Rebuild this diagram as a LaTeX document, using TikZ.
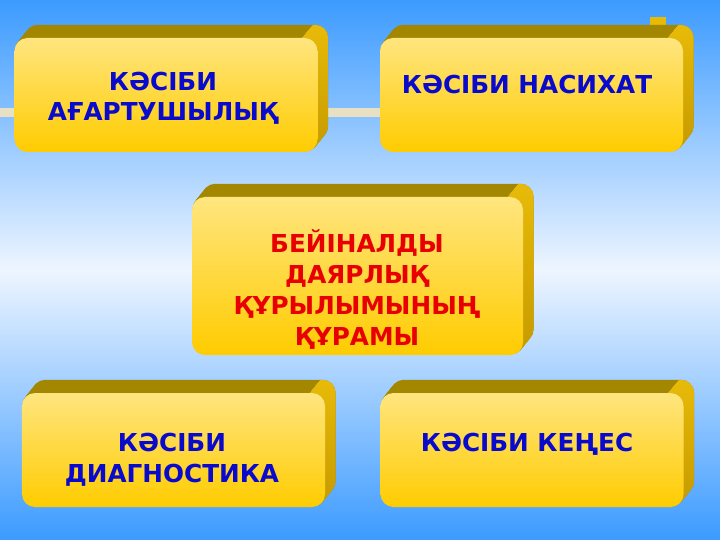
\documentclass[tikz,border=0pt]{standalone}
\usepackage{fontspec}
\setmainfont{DejaVu Sans}
\usetikzlibrary{calc}
\definecolor{skBlue}{HTML}{3C9BFF}
\definecolor{skPale}{HTML}{EEF5FF}
\definecolor{slTop}{HTML}{FFE57F}
\definecolor{slBot}{HTML}{FFCC00}
\definecolor{rimDark}{HTML}{A38700}
\definecolor{rimLight}{HTML}{E8BA08}
\definecolor{rimShade}{HTML}{C99D00}
\definecolor{railBeige}{HTML}{E7E0C2}
\definecolor{txBlue}{HTML}{0A0ACC}
\definecolor{txRed}{HTML}{E80000}
\pgfdeclarelayer{sky}
\pgfdeclarelayer{rim}
\pgfsetlayers{sky,rim,main}
\tikzset{
  face/.style={rounded corners=13bp,top color=slTop,bottom color=slBot,
    draw=none,inner sep=0pt},
  slab/.style={face,minimum width=303bp,minimum height=114bp},
  caption/.style={font=\bfseries\fontsize{24.8}{31}\selectfont,align=center,
    anchor=base},
  bluecap/.style={caption,text=txBlue},
  redcap/.style={caption,text=txRed},
}
% extruded top and right side behind a face node
\newcommand\slabrim[1]{%
  \foreach \k in {1,...,13}
    \fill[rimDark,rounded corners=13bp]
      ([shift={(0.8*\k,-\k)}]#1.south west) rectangle ([shift={(0.8*\k,-\k)}]#1.north east);
  \begin{scope}
    \clip ($(#1.north east)+(-15,0)$) -- ++(10.4,-13) -- ++(40,0)
      -- ($(#1.south east)+(40,0)$) -- ($(#1.south east)+(-15,0)$) -- cycle;
    \foreach \k in {1,...,13}
      \shade[top color=rimLight,bottom color=rimShade,rounded corners=13bp]
        ([shift={(0.8*\k,-\k)}]#1.south west) rectangle ([shift={(0.8*\k,-\k)}]#1.north east);
  \end{scope}}
\begin{document}
\begin{tikzpicture}[x=1bp,y=-1bp]
  \useasboundingbox (0,0) rectangle (720,540);
  % slabs
  \node[slab] (edu) at (166,95) {};
  \node[slab] (advice) at (531.5,95) {};
  \node[face,minimum width=331bp,minimum height=158bp] (core) at (357.5,276) {};
  \node[slab] (diag) at (173.5,450) {};
  \node[slab] (counsel) at (532,450) {};
  \begin{pgfonlayer}{rim}
    \slabrim{edu}
    \slabrim{advice}
    \slabrim{core}
    \slabrim{diag}
    \slabrim{counsel}
  \end{pgfonlayer}
  % captions (base = last line)
  \node[bluecap] (eduText) at (163,121) {КӘСІБИ\\АҒАРТУШЫЛЫҚ};
  \node[bluecap] (adviceText) at (527,94) {КӘСІБИ НАСИХАТ};
  \node[redcap] (coreText) at (357,345) {БЕЙІНАЛДЫ\\ДАЯРЛЫҚ\\ҚҰРЫЛЫМЫНЫҢ\\ҚҰРАМЫ};
  \node[bluecap] (diagText) at (172,482) {КӘСІБИ\\ДИАГНОСТИКА};
  \node[bluecap] (counselText) at (527,451) {КӘСІБИ КЕҢЕС};
  % backdrop
  \begin{pgfonlayer}{sky}
    \shade[top color=skBlue,bottom color=skPale] (0,0) rectangle (720,270);
    \shade[top color=skPale,bottom color=skBlue] (0,270) rectangle (720,540);
    \fill[railBeige] (0,108) rectangle (392,117);
    \fill[rimLight] (650,17) rectangle (666,30);
  \end{pgfonlayer}
\end{tikzpicture}
\end{document}
